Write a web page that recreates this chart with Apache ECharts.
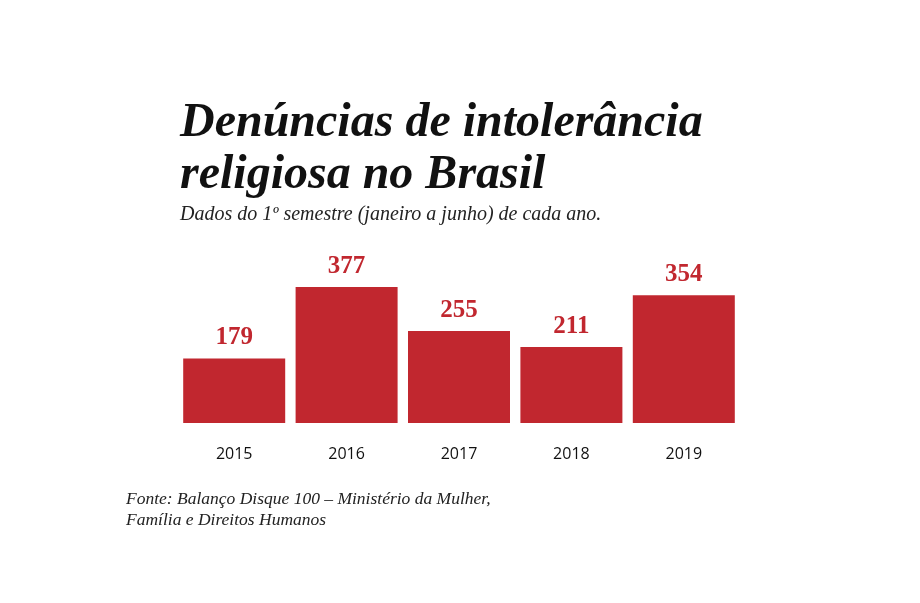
<!DOCTYPE html>
<html>
<head>
<meta charset="utf-8">
<script src="https://cdn.jsdelivr.net/npm/echarts@6/dist/echarts.min.js"></script>
<style>
html,body{margin:0;padding:0;background:#fff;}
#chart{width:920px;height:603px;}
</style>
</head>
<body>
<div id="chart"></div>
<script>
var categories = ['2015', '2016', '2017', '2018', '2019'];
var values = [179, 377, 255, 211, 354];
var titleText = 'Denúncias de intolerância\nreligiosa no Brasil';
var subtitleText = 'Dados do 1º semestre (janeiro a junho) de cada ano.';
var sourceText = 'Fonte: Balanço Disque 100 – Ministério da Mulher,\nFamília e Direitos Humanos';

var chart = echarts.init(document.getElementById('chart'), null, {renderer: 'canvas'});
chart.setOption({
  backgroundColor: '#ffffff',
  animation: false,
  title: [
    {
      text: titleText,
      left: 175, top: 93,
      textStyle: {fontFamily: 'Liberation Serif', fontStyle: 'italic', fontWeight: 'bold', fontSize: 48, lineHeight: 52, color: '#111'}
    },
    {
      text: subtitleText,
      left: 175, top: 200,
      textStyle: {fontFamily: 'Liberation Serif', fontStyle: 'italic', fontWeight: 'normal', fontSize: 20, color: '#222'}
    },
    {
      text: sourceText,
      left: 121, top: 484,
      textStyle: {fontFamily: 'Liberation Serif', fontStyle: 'italic', fontWeight: 'normal', fontSize: 17.5, lineHeight: 21, color: '#222'}
    }
  ],
  grid: {left: 178, width: 562, top: 278.7, height: 144.3, containLabel: false},
  xAxis: {
    type: 'category',
    data: categories,
    axisLine: {show: false},
    axisTick: {show: false},
    axisLabel: {fontFamily: 'Open Sans', fontSize: 16, color: '#111', margin: 23}
  },
  yAxis: {
    type: 'value', min: 0, max: 400,
    show: false,
    splitLine: {show: false}
  },
  series: [{
    type: 'bar',
    data: values,
    barWidth: 102,
    itemStyle: {color: '#c1272f'},
    label: {
      show: true, position: 'top', distance: 8,
      fontFamily: 'Liberation Serif', fontWeight: 'bold', fontSize: 25, color: '#c1272f'
    }
  }]
});
</script>
</body>
</html>
